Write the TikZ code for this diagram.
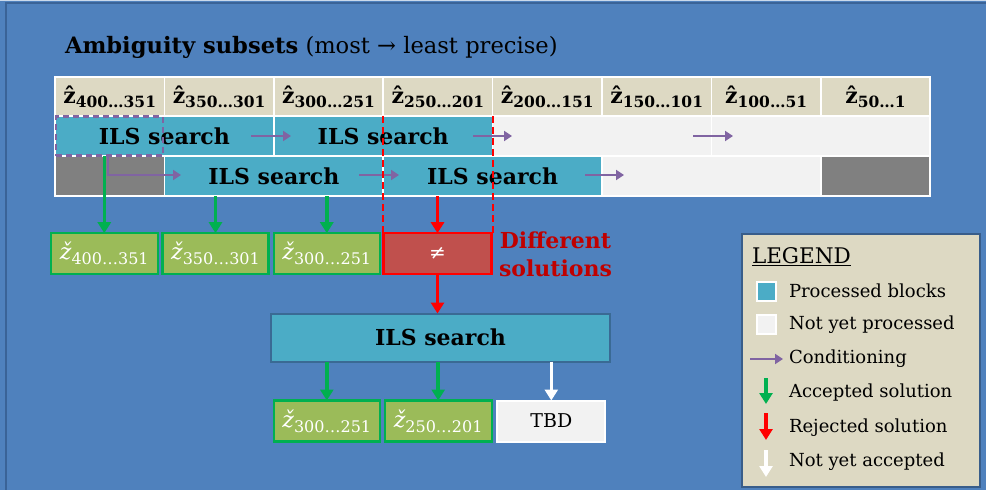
\documentclass[tikz,border=0pt]{standalone}
\usepackage{fontspec}
\setmainfont{DejaVu Serif}
\usetikzlibrary{arrows.meta,calc}

\definecolor{bgblue}{HTML}{4F81BD}
\definecolor{framec}{HTML}{3A6397}
\definecolor{tan}{HTML}{DDD9C3}
\definecolor{cyanb}{HTML}{4BACC6}
\definecolor{lgrey}{HTML}{F2F2F2}
\definecolor{dgrey}{HTML}{808080}
\definecolor{purp}{HTML}{8064A2}
\definecolor{accgreen}{HTML}{00B050}
\definecolor{olive}{HTML}{9BBB59}
\definecolor{redfill}{HTML}{C0504D}
\definecolor{rejred}{HTML}{FF0000}
\definecolor{darkred}{HTML}{C00000}
\definecolor{ilsframe}{HTML}{3A6A94}
\definecolor{legframe}{HTML}{385D8A}

\newcommand{\ilsfont}{\fontsize{22}{26}\selectfont\bfseries}
\newcommand{\legfont}{\fontsize{18}{22}\selectfont}
% estimated subset, bold with a hat and a lowered index range
\newcommand{\zh}[1]{{\fontsize{22}{26}\selectfont\bfseries\^{z}}%
  \raisebox{-4pt}{\fontsize{15.5}{18}\selectfont\bfseries #1}}
% fixed solution, italic with a caron and a lowered index range
\newcommand{\zc}[1]{{\fontsize{22}{26}\selectfont\itshape\v{z}}%
  \raisebox{-5pt}{\fontsize{16}{19}\selectfont #1}}

\tikzset{
  base/.style={inner sep=0pt, outer sep=0pt},
  hdr/.style={base, fill=tan, draw=white, line width=1.5pt,
    minimum width=109.4pt, minimum height=39.5pt},
  blk/.style={base, fill=cyanb, draw=white, line width=1.5pt,
    minimum height=40pt, font=\ilsfont},
  todo/.style={base, fill=lgrey, draw=white, line width=1.5pt, minimum height=40pt},
  masked/.style={base, fill=dgrey, draw=white, line width=1.5pt, minimum height=40pt},
  sol/.style={base, fill=olive, draw=accgreen, line width=2.4pt,
    minimum height=41pt, text=white},
  cond/.style={draw=purp, line width=2.2pt, -{Triangle[length=8pt,width=10pt]}},
  acc/.style={draw=accgreen, line width=3.5pt, -{Triangle[length=11pt,width=13pt]}},
  rej/.style={draw=rejred, line width=3.5pt, -{Triangle[length=11pt,width=13pt]}},
  pend/.style={draw=white, line width=3.5pt, -{Triangle[length=11pt,width=13pt]}},
  reddash/.style={draw=rejred, line width=2pt, dash pattern=on 7pt off 4pt},
  legitem/.style={base, anchor=west, font=\legfont, text=black},
  legsq/.style={base, draw=white, line width=2pt, minimum width=19pt, minimum height=19pt},
}

\begin{document}
\begin{tikzpicture}[x=1pt,y=-1pt]
\useasboundingbox (0,0) rectangle (986,490);

% slide background and its frame
\fill[bgblue] (0,0) rectangle (986,490);
\fill[white!70!bgblue] (0,0) rectangle (986,1.2);
\draw[framec, line width=2.5pt] (6,490) -- (6,3) -- (986,3);

% title
\node[base, anchor=west, font=\fontsize{22.6}{26}\selectfont] (title) at (65,47)
  {\textbf{Ambiguity subsets} (most → least precise)};

% header row of ambiguity subsets
\node[hdr] (h1) at (109.7,96.5) {\zh{400…351}};
\node[hdr] (h2) at (219.1,96.5) {\zh{350…301}};
\node[hdr] (h3) at (328.5,96.5) {\zh{300…251}};
\node[hdr] (h4) at (437.9,96.5) {\zh{250…201}};
\node[hdr] (h5) at (547.3,96.5) {\zh{200…151}};
\node[hdr] (h6) at (656.7,96.5) {\zh{150…101}};
\node[hdr] (h7) at (766.1,96.5) {\zh{100…51}};
\node[hdr] (h8) at (875.5,96.5) {\zh{50…1}};

% first pass of block searches
\node[blk, minimum width=218.8pt] (a1) at (164.4,136) {ILS search};
\node[blk, minimum width=218.8pt] (a2) at (383.2,136) {ILS search};
\node[todo, minimum width=218.8pt] (a3) at (602.0,136) {};
\node[todo, minimum width=218.8pt] (a4) at (820.8,136) {};

% second, shifted pass of block searches
\node[masked, minimum width=109.4pt] (b0) at (109.7,176) {};
\node[blk, minimum width=218.8pt] (b1) at (273.8,176) {ILS search};
\node[blk, minimum width=218.8pt] (b2) at (492.6,176) {ILS search};
\node[todo, minimum width=218.8pt] (b3) at (711.4,176) {};
\node[masked, minimum width=109.4pt] (b4) at (875.5,176) {};

% selected sub-block
\node[base, draw=purp, line width=2.5pt, dash pattern=on 6pt off 4pt,
  minimum width=107pt, minimum height=39pt] (sel) at (109.5,136) {};

% conditioning arrows
\coordinate (c1s) at (251,136);  \coordinate (c1e) at (291,136);
\coordinate (c2s) at (473,136);  \coordinate (c2e) at (512,136);
\coordinate (c3s) at (693,136);  \coordinate (c3e) at (733,136);
\coordinate (c4s) at (108,157);  \coordinate (c4e) at (181,175);
\coordinate (c5s) at (359,175);  \coordinate (c5e) at (399,175);
\coordinate (c6s) at (585,175);  \coordinate (c6e) at (624,175);
\draw[cond] (c1s) -- (c1e);
\draw[cond] (c2s) -- (c2e);
\draw[cond] (c3s) -- (c3e);
\draw[cond] (c4s) |- (c4e);
\draw[cond] (c5s) -- (c5e);
\draw[cond] (c6s) -- (c6e);

% block solutions
\node[sol, minimum width=107pt] (s1) at (104.3,253.7) {\zc{400…351}};
\node[sol, minimum width=106pt] (s2) at (215.5,253.7) {\zc{350…301}};
\node[sol, minimum width=106pt] (s3) at (326.8,253.7) {\zc{300…251}};
\node[base, fill=redfill, draw=rejred, line width=2.4pt, minimum width=108pt,
  minimum height=41pt, text=white, font=\fontsize{20}{24}\selectfont] (neq) at (437.5,253.7) {≠};
\node[base, anchor=west, align=center, text=darkred,
  font=\fontsize{22}{28}\selectfont\bfseries] (diff) at (499,254)
  {Different\\solutions};

% overlap window of the disagreeing searches
\draw[reddash] (b2.north west |- a2.north) -- (b2.north west |- neq.north);
\draw[reddash] (a2.north east) -- (a2.north east |- neq.north);

% outcome of the first passes
\draw[acc] (s1.north |- a1.south) -- (s1.north);
\draw[acc] (s2.north |- b1.south) -- (s2.north);
\draw[acc] (s3.north |- b1.south) -- (s3.north);
\draw[rej] (neq.north |- b2.south) -- (neq.north);

% re-run on the disputed blocks
\node[base, fill=cyanb, draw=ilsframe, line width=2pt, minimum width=339pt,
  minimum height=48pt, font=\ilsfont] (ils) at (440.5,337.5) {ILS search};
\draw[rej] (neq.south) -- (neq.south |- ils.north);

\node[sol, minimum width=106pt] (t1) at (326.8,421) {\zc{300…251}};
\node[sol, minimum width=107pt] (t2) at (438.2,421) {\zc{250…201}};
\node[base, fill=lgrey, draw=white, line width=2pt, minimum width=108pt,
  minimum height=41pt, font=\fontsize{19}{23}\selectfont] (tbd) at (551.3,421) {TBD};
\draw[acc] (t1.north |- ils.south) -- (t1.north);
\draw[acc] (t2.north |- ils.south) -- (t2.north);
\draw[pend] (tbd.north |- ils.south) -- (tbd.north);

% legend
\node[base, fill=tan, draw=legframe, line width=2pt, minimum width=238pt,
  minimum height=253pt] (leg) at (861,360.5) {};
\node[legitem, font=\fontsize{21.5}{25}\selectfont] (legt) at (752,257) {\underline{LEGEND}};
\node[legsq, fill=cyanb] (q1) at (766.5,291) {};
\node[legsq, fill=lgrey] (q2) at (766.5,324) {};
\node[legitem] (l1) at (789,291) {Processed blocks};
\node[legitem] (l2) at (789,325) {Not yet processed};
\node[legitem] (l3) at (789,359) {Conditioning};
\node[legitem] (l4) at (789,393) {Accepted solution};
\node[legitem] (l5) at (789,428) {Rejected solution};
\node[legitem] (l6) at (789,462) {Not yet accepted};
\coordinate (k1s) at (750,359);   \coordinate (k1e) at (783,359);
\coordinate (k2s) at (766,378);   \coordinate (k2e) at (766,404);
\coordinate (k3s) at (766,413);   \coordinate (k3e) at (766,440);
\coordinate (k4s) at (766,450);   \coordinate (k4e) at (766,477);
\draw[cond] (k1s) -- (k1e);
\draw[acc] (k2s) -- (k2e);
\draw[rej] (k3s) -- (k3e);
\draw[pend] (k4s) -- (k4e);
\end{tikzpicture}
\end{document}
